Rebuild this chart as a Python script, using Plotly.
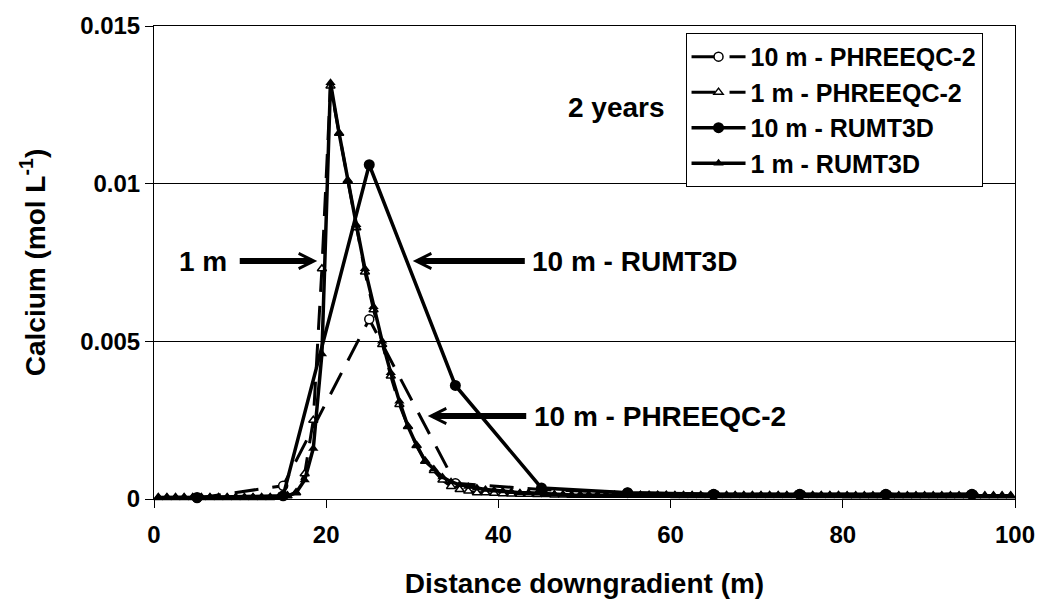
import plotly.graph_objects as go

# ---- data ----
x_1m = [0.5, 1.5, 2.5, 3.5, 4.5, 5.5, 6.5, 7.5, 8.5, 9.5,
        10.5, 11.5, 12.5, 13.5, 14.5, 15.5, 16.5, 17.5, 18.5, 19.5,
        20.5, 21.5, 22.5, 23.5, 24.5, 25.5, 26.5, 27.5, 28.5, 29.5,
        30.5, 31.5, 32.5, 33.5, 34.5, 35.5, 36.5, 37.5, 38.5, 39.5,
        40.5, 41.5, 42.5, 43.5, 44.5, 45.5, 46.5, 47.5, 48.5, 49.5,
        50.5, 51.5, 52.5, 53.5, 54.5, 55.5, 56.5, 57.5, 58.5, 59.5,
        60.5, 61.5, 62.5, 63.5, 64.5, 65.5, 66.5, 67.5, 68.5, 69.5,
        70.5, 71.5, 72.5, 73.5, 74.5, 75.5, 76.5, 77.5, 78.5, 79.5,
        80.5, 81.5, 82.5, 83.5, 84.5, 85.5, 86.5, 87.5, 88.5, 89.5,
        90.5, 91.5, 92.5, 93.5, 94.5, 95.5, 96.5, 97.5, 98.5, 99.5]

ca_1m_rumt3d = [0.00005, 0.00005, 0.00005, 0.00005, 0.00005, 0.00005, 0.00005, 0.00005, 0.00005, 0.00005,
                0.00005, 0.00005, 0.00005, 0.00005, 0.00006, 0.0001, 0.0002, 0.0006, 0.0016, 0.0046,
                0.0132, 0.0116, 0.0101, 0.0087, 0.0073, 0.0061, 0.0050, 0.0040, 0.0031, 0.0023,
                0.0017, 0.0012, 0.00095, 0.0007, 0.00055, 0.00045, 0.0004, 0.00035, 0.0003, 0.00028,
                0.00025, 0.00023, 0.0002, 0.0002, 0.00018, 0.00016, 0.00015, 0.00014, 0.00013, 0.00013,
                0.00012, 0.00012, 0.00012, 0.00012, 0.00012, 0.00012, 0.00012, 0.00012, 0.00012, 0.00012,
                0.00011, 0.00011, 0.00011, 0.00011, 0.00011, 0.00011, 0.00011, 0.00011, 0.00011, 0.00011,
                0.00011, 0.00011, 0.00011, 0.00011, 0.00011, 0.00011, 0.00011, 0.00011, 0.00011, 0.00011,
                0.0001, 0.0001, 0.0001, 0.0001, 0.0001, 0.0001, 0.0001, 0.0001, 0.0001, 0.0001,
                0.0001, 0.0001, 0.0001, 0.0001, 0.0001, 0.0001, 0.0001, 0.0001, 0.0001, 0.0001]

ca_1m_phreeqc = [0.00005, 0.00005, 0.00005, 0.00005, 0.00005, 0.00005, 0.00005, 0.00005, 0.00005, 0.00005,
                 0.00005, 0.00005, 0.00005, 0.00005, 0.00006, 0.0001, 0.0002, 0.0008, 0.0025, 0.0073,
                 0.0131, 0.0116, 0.0101, 0.0086, 0.0072, 0.0060, 0.0049, 0.0039, 0.0030, 0.0023,
                 0.0017, 0.0012, 0.0009, 0.0006, 0.0004, 0.0003, 0.00025, 0.0002, 0.0002, 0.00018,
                 0.00017, 0.00016, 0.00015, 0.00015, 0.00014, 0.00014, 0.00013, 0.00013, 0.00012, 0.00012,
                 0.00012, 0.00012, 0.00012, 0.00012, 0.00012, 0.00012, 0.00012, 0.00012, 0.00012, 0.00012,
                 0.00011, 0.00011, 0.00011, 0.00011, 0.00011, 0.00011, 0.00011, 0.00011, 0.00011, 0.00011,
                 0.00011, 0.00011, 0.00011, 0.00011, 0.00011, 0.00011, 0.00011, 0.00011, 0.00011, 0.00011,
                 0.0001, 0.0001, 0.0001, 0.0001, 0.0001, 0.0001, 0.0001, 0.0001, 0.0001, 0.0001,
                 0.0001, 0.0001, 0.0001, 0.0001, 0.0001, 0.0001, 0.0001, 0.0001, 0.0001, 0.0001]

x_10m = [5, 15, 25, 35, 45, 55, 65, 75, 85, 95]
ca_10m_rumt3d = [0.00005, 0.0001, 0.0106, 0.0036, 0.00035, 0.0002, 0.00015, 0.00015, 0.00015, 0.00015]
ca_10m_phreeqc = [0.00003, 0.00042, 0.0057, 0.0005, 0.0003, 0.0002, 0.00015, 0.00015, 0.00015, 0.00015]

x_ticks = [0, 20, 40, 60, 80, 100]
y_ticks = [0, 0.005, 0.01, 0.015]
y_tick_labels = ["0", "0.005", "0.01", "0.015"]

FONT = "Liberation Sans"
DASH = "24px,14px"

fig = go.Figure()
fig.add_trace(go.Scatter(
    x=x_10m, y=ca_10m_phreeqc, name="10 m - PHREEQC-2", mode="lines+markers",
    line=dict(color="black", width=3, dash=DASH),
    marker=dict(symbol="circle", size=9, color="white", line=dict(color="black", width=1.5)),
    cliponaxis=False))
fig.add_trace(go.Scatter(
    x=x_1m, y=ca_1m_phreeqc, name="1 m - PHREEQC-2", mode="lines+markers",
    line=dict(color="black", width=3, dash=DASH),
    marker=dict(symbol="triangle-up", size=8, color="white", line=dict(color="black", width=1.5)),
    cliponaxis=False))
fig.add_trace(go.Scatter(
    x=x_10m, y=ca_10m_rumt3d, name="10 m - RUMT3D", mode="lines+markers",
    line=dict(color="black", width=3.5),
    marker=dict(symbol="circle", size=11, color="black"),
    cliponaxis=False))
fig.add_trace(go.Scatter(
    x=x_1m, y=ca_1m_rumt3d, name="1 m - RUMT3D", mode="lines+markers",
    line=dict(color="black", width=3.5),
    marker=dict(symbol="triangle-up", size=9, color="black"),
    cliponaxis=False))

bold = dict(family=FONT, size=28, color="black", weight="bold")

# plot area in pixels: left 154, right 1019, top 20, bottom 499
def px(xp):
    return (xp - 154) / 865

def py(yp):
    return (499 - yp) / 479

def pointer(text, center, head, pad):
    # text centred at `center`, arrow drawn from the text box to `head` (pixel positions)
    return dict(x=px(head[0]), y=py(head[1]), xref="paper", yref="paper", text=text,
                showarrow=True, ax=center[0] - head[0], ay=center[1] - head[1],
                axref="pixel", ayref="pixel", borderpad=pad, font=bold,
                arrowhead=5, arrowsize=0.5, arrowwidth=6, arrowcolor="black")

annotations = [
    dict(x=px(619), y=py(103), xref="paper", yref="paper", text="2 years", showarrow=False,
         xanchor="center", yanchor="middle", font=bold),
    pointer("1 m", (204, 258), (318, 258), 12),
    pointer("10 m - RUMT3D", (636, 258), (414, 258), 7),
    pointer("10 m - PHREEQC-2", (661, 415), (429, 415), 7),
]

fig.update_layout(
    width=1047, height=609,
    margin=dict(l=154, r=28, t=20, b=110),
    paper_bgcolor="white", plot_bgcolor="white",
    font=dict(family=FONT, color="black", size=24, weight="bold"),
    showlegend=True,
    legend=dict(x=px(688), y=py(27), xanchor="left", yanchor="top",
                bgcolor="white", bordercolor="black", borderwidth=1,
                font=dict(family=FONT, size=25, color="black", weight="bold"),
                tracegroupgap=0, itemwidth=54),
    annotations=annotations,
)
fig.update_xaxes(range=[0, 100], tickvals=x_ticks, ticks="outside", ticklen=8, tickcolor="black",
                 showline=True, linecolor="black", linewidth=1, mirror=True, showgrid=False,
                 zeroline=False, tickfont=dict(family=FONT, size=24, weight="bold"),
                 ticklabelstandoff=6,
                 title=dict(text="Distance downgradient (m)", font=dict(family=FONT, size=28, weight="bold"),
                            standoff=26))
fig.update_yaxes(range=[0, 0.015], tickvals=y_ticks, ticktext=y_tick_labels, ticks="outside", ticklen=8,
                 tickcolor="black", showline=True, linecolor="black", linewidth=1, mirror=True,
                 showgrid=True, gridcolor="black", gridwidth=1, zeroline=False,
                 tickfont=dict(family=FONT, size=24, weight="bold"),
                 title=dict(text="Calcium (mol L<sup>-1</sup>)", font=dict(family=FONT, size=28, weight="bold"),
                            standoff=26))

fig.write_html("out.html")
